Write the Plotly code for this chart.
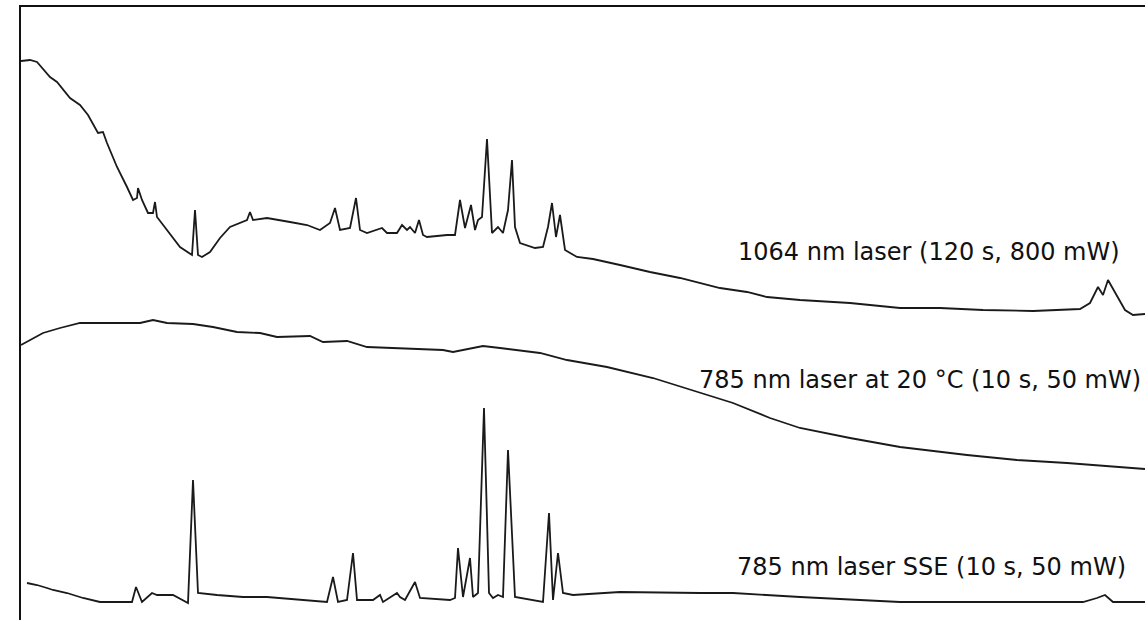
import plotly.graph_objects as go

# Spectra (x: shift position, y: intensity, arbitrary units)
x_1064 = [21, 30, 37, 50, 57, 70, 80, 88, 98, 103, 107, 117, 127, 133, 137, 138, 142, 148, 153, 155, 157,
          167, 180, 192, 195, 198, 202, 210, 220, 230, 240, 247, 250, 253, 267, 277, 290, 307, 320, 330,
          335, 340, 350, 356, 360, 367, 382, 387, 397, 402, 407, 410, 415, 419, 423, 427, 447, 455, 460,
          465, 471, 475, 478, 482, 487, 492, 498, 503, 508, 512, 515, 520, 535, 543, 548, 552, 556, 560,
          565, 577, 593, 620, 650, 680, 700, 720, 747, 767, 800, 850, 900, 940, 983, 1033, 1080, 1090,
          1098, 1103, 1108, 1118, 1125, 1133, 1145]
y_1064 = [559, 560, 558, 543, 538, 522, 515, 505, 487, 488, 477, 453, 433, 420, 422, 432, 420, 407, 407, 418, 403,
          390, 373, 365, 410, 365, 363, 368, 382, 393, 397, 400, 408, 400, 402, 400, 398, 395, 390, 397,
          412, 390, 392, 422, 390, 387, 392, 387, 387, 395, 390, 393, 387, 400, 385, 383, 385, 385, 420,
          392, 415, 390, 400, 403, 481, 387, 393, 387, 410, 460, 393, 377, 372, 373, 393, 417, 383, 405,
          370, 363, 361, 355, 348, 342, 337, 332, 328, 323, 320, 317, 312, 312, 310, 309, 311, 317,
          333, 325, 340, 323, 310, 305, 306]

x_785 = [21, 30, 43, 60, 80, 100, 120, 140, 153, 167, 193, 213, 237, 260, 277, 310, 323, 347, 367, 397,
         400, 443, 453, 483, 500, 540, 567, 607, 653, 700, 733, 770, 800, 850, 900, 967, 1017, 1067, 1145]
y_785 = [275, 280, 287, 292, 297, 297, 297, 297, 300, 297, 296, 293, 288, 287, 283, 284, 278, 279, 273, 272,
         272, 270, 268, 274, 272, 267, 260, 253, 242, 227, 217, 202, 192, 182, 173, 165, 160, 157, 151]

x_sse = [27, 37, 47, 53, 67, 83, 100, 117, 132, 136, 142, 152, 157, 173, 188, 193, 198, 217, 243, 267,
         300, 327, 333, 338, 347, 353, 357, 373, 380, 383, 397, 400, 405, 415, 420, 450, 455, 458, 463,
         470, 473, 478, 484, 489, 493, 498, 503, 508, 515, 533, 543, 549, 553, 558, 563, 573, 620, 700,
         733, 800, 900, 983, 1083, 1097, 1105, 1113, 1145]
y_sse = [37, 35, 32, 30, 27, 22, 18, 18, 18, 33, 18, 27, 25, 25, 17, 140, 27, 25, 23, 23,
         20, 18, 43, 18, 20, 67, 20, 20, 25, 18, 27, 23, 20, 38, 22, 20, 22, 72, 23,
         62, 23, 27, 212, 27, 22, 25, 23, 170, 23, 20, 18, 107, 20, 67, 27, 25, 28, 27,
         27, 23, 18, 18, 18, 22, 25, 18, 18]

labels = ["1064 nm laser (120 s, 800 mW)",
          "785 nm laser at 20 °C (10 s, 50 mW)",
          "785 nm laser SSE (10 s, 50 mW)"]
label_x = [1122, 1143, 1128]
label_y = [368, 240, 53]

fig = go.Figure()
line_style = dict(color="#1a1a1a", width=1.8)
for xs, ys, name in [(x_1064, y_1064, labels[0]), (x_785, y_785, labels[1]), (x_sse, y_sse, labels[2])]:
    fig.add_trace(go.Scatter(x=xs, y=ys, mode="lines", line=line_style, name=name,
                             showlegend=False, hoverinfo="skip"))

for t, lx, ly in zip(labels, label_x, label_y):
    fig.add_annotation(x=lx, y=ly, text=t, showarrow=False, xanchor="right", yanchor="middle",
                       font=dict(family="DejaVu Sans", size=24, color="#111111"))

fig.update_layout(
    width=1145, height=620,
    margin=dict(l=21, r=0, t=7, b=0),
    paper_bgcolor="white", plot_bgcolor="white",
    xaxis=dict(range=[21, 1145], side="top", showline=True, linecolor="#111111", linewidth=2,
               showgrid=False, zeroline=False, showticklabels=False, ticks=""),
    yaxis=dict(range=[0, 613], showline=True, linecolor="#111111", linewidth=2,
               showgrid=False, zeroline=False, showticklabels=False, ticks=""),
)

fig.write_html("out.html")
